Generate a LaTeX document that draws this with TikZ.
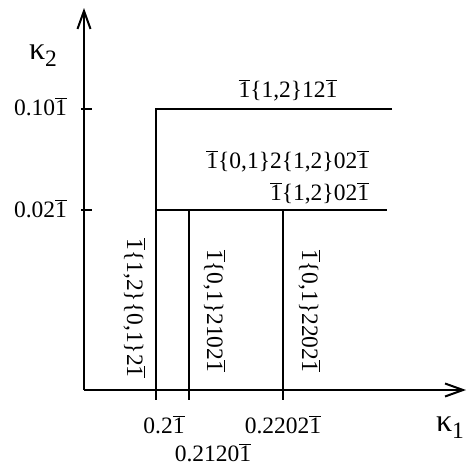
\documentclass[tikz,border=0pt]{standalone}
\usepackage{fontspec}
\setmainfont{Liberation Serif}
\usetikzlibrary{arrows.meta}

\newcommand{\ob}{\ensuremath{\overline{\mbox{1}}}}
\newcommand{\kk}[1]{{\fontsize{32}{32}\selectfont κ}\raisebox{-0.3em}{#1}}

\tikzset{
  axis/.style={-{Straight Barb[length=18pt,width=13pt,line width=2pt]}},
  lbl/.style={inner sep=0pt,anchor=base},
  vlbl/.style={inner sep=0pt,rotate=-90}
}

\begin{document}
\begin{tikzpicture}[x=1pt,y=-1pt,line width=2pt,font=\fontsize{23.5}{26}\selectfont]
        \useasboundingbox (0,0) rectangle (468,474);
        % axes
        \draw[axis] (84,390) -- (84,8);
        \draw[axis] (84,390) -- (466,390);
        \node[inner sep=0pt] (k2) at (43,56) {\kk{2}};
        \node[inner sep=0pt] (k1) at (450,428) {\kk{1}};
        % ticks
        \draw (81,109) -- (92,109);
        \draw (81,210) -- (92,210);
        \foreach \x in {156,189,283}
          \draw (\x,390) -- (\x,400);
        \node[lbl,anchor=base east] (y1) at (68,115) {0.10\ob};
        \node[lbl,anchor=base east] (y2) at (68,217) {0.02\ob};
        \node[lbl] (x1) at (164,433) {0.2\ob};
        \node[lbl] (x2) at (213,461) {0.2120\ob};
        \node[lbl] (x3) at (283,433) {0.2202\ob};
        % regions
        \draw (392,109) -- (156,109) -- (156,390);
        \draw (156,210) -- (387,210);
        \draw (189,210) -- (189,390);
        \draw (283,210) -- (283,390);
        \node[lbl] (r1) at (288,97) {\ob\{1,2\}12\ob};
        \node[lbl,anchor=base east] (r2) at (370,168) {\ob\{0,1\}2\{1,2\}02\ob};
        \node[lbl,anchor=base east] (r3) at (370,200) {\ob\{1,2\}02\ob};
        \node[vlbl] (r4) at (134,308) {\ob\{1,2\}\{0,1\}2\ob};
        \node[vlbl] (r5) at (214,311) {\ob\{0,1\}2102\ob};
        \node[vlbl] (r6) at (309,311) {\ob\{0,1\}2202\ob};
      \end{tikzpicture}
\end{document}
